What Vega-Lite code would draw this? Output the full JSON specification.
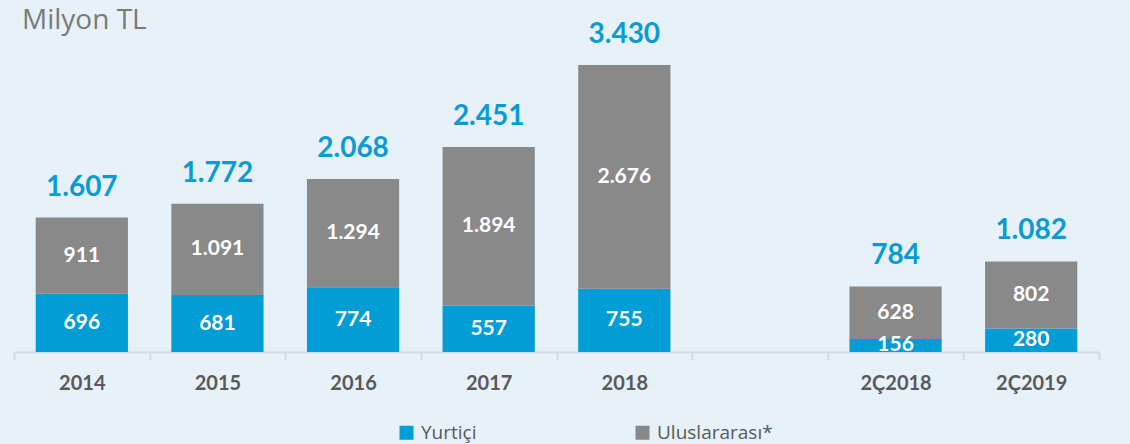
{
  "$schema": "https://vega.github.io/schema/vega-lite/v6.json",
  "width": 1085,
  "height": 312,
  "autosize": {"type": "none"},
  "padding": {"left": 14, "top": 40, "right": 31, "bottom": 92},
  "background": "#e6f1fa",
  "title": {
    "text": "Milyon TL",
    "anchor": "start",
    "frame": "group",
    "font": "Open Sans",
    "fontSize": 28,
    "fontWeight": "normal",
    "color": "#7a7a7a",
    "dx": 8,
    "dy": 14,
    "offset": 0
  },
  "config": {
    "view": {"stroke": null},
    "locale": {"number": {"decimal": ",", "thousands": ".", "grouping": [3], "currency": ["", " TL"]}}
  },
  "datasets": {
    "segments": [
      {"yil": "2014", "tur": "Yurtiçi", "deger": 696},
      {"yil": "2014", "tur": "Uluslararası*", "deger": 911},
      {"yil": "2015", "tur": "Yurtiçi", "deger": 681},
      {"yil": "2015", "tur": "Uluslararası*", "deger": 1091},
      {"yil": "2016", "tur": "Yurtiçi", "deger": 774},
      {"yil": "2016", "tur": "Uluslararası*", "deger": 1294},
      {"yil": "2017", "tur": "Yurtiçi", "deger": 557},
      {"yil": "2017", "tur": "Uluslararası*", "deger": 1894},
      {"yil": "2018", "tur": "Yurtiçi", "deger": 755},
      {"yil": "2018", "tur": "Uluslararası*", "deger": 2676},
      {"yil": "2Ç2018", "tur": "Yurtiçi", "deger": 156},
      {"yil": "2Ç2018", "tur": "Uluslararası*", "deger": 628},
      {"yil": "2Ç2019", "tur": "Yurtiçi", "deger": 280},
      {"yil": "2Ç2019", "tur": "Uluslararası*", "deger": 802}
    ],
    "totals": [
      {"yil": "2014", "toplam": 1607},
      {"yil": "2015", "toplam": 1772},
      {"yil": "2016", "toplam": 2068},
      {"yil": "2017", "toplam": 2451},
      {"yil": "2018", "toplam": 3430},
      {"yil": "2Ç2018", "toplam": 784},
      {"yil": "2Ç2019", "toplam": 1082}
    ]
  },
  "data": {"name": "segments"},
  "encoding": {
    "x": {
      "field": "yil",
      "type": "nominal",
      "scale": {"domain": ["2014", "2015", "2016", "2017", "2018", " ", "2Ç2018", "2Ç2019"], "paddingInner": 0, "paddingOuter": 0},
      "axis": {
        "title": null,
        "labelAngle": 0,
        "tickBand": "extent",
        "domainColor": "#d6dbe0",
        "domainWidth": 2,
        "tickColor": "#d6dbe0",
        "tickWidth": 2,
        "tickSize": 8,
        "labelFont": "Lato",
        "labelFontSize": 20,
        "labelFontWeight": "bold",
        "labelColor": "#595959",
        "labelPadding": 13
      }
    }
  },
  "layer": [
    {
      "mark": {"type": "bar", "width": {"band": 0.68}},
      "encoding": {
        "y": {"field": "deger", "type": "quantitative", "stack": "zero", "scale": {"domain": [0, 3729], "nice": false, "zero": true}, "axis": null},
        "color": {
          "field": "tur",
          "type": "nominal",
          "scale": {"domain": ["Yurtiçi", "Uluslararası*"], "range": ["#009dd6", "#898989"]},
          "legend": {
            "title": null,
            "orient": "none",
            "direction": "horizontal",
            "legendX": 383,
            "legendY": 383,
            "symbolType": "square",
            "symbolSize": 196,
            "symbolStrokeWidth": 0,
            "labelFont": "Open Sans",
            "labelFontSize": 19,
            "labelColor": "#595959",
            "labelOffset": 5,
            "columnPadding": 156
          }
        },
        "order": {"field": "tur", "sort": "descending"}
      }
    },
    {
      "mark": {"type": "text", "color": "white", "font": "Lato", "fontWeight": "bold", "fontSize": 21, "baseline": "middle"},
      "encoding": {
        "y": {"field": "deger", "type": "quantitative", "stack": "zero", "bandPosition": 0.5},
        "text": {"field": "deger", "type": "quantitative", "format": ",d"},
        "order": {"field": "tur", "sort": "descending"},
        "detail": {"field": "tur"}
      }
    },
    {
      "data": {"name": "totals"},
      "mark": {"type": "text", "color": "#0a9bd5", "font": "Lato", "fontWeight": "bold", "fontSize": 28, "baseline": "alphabetic", "dy": -22},
      "encoding": {
        "y": {"field": "toplam", "type": "quantitative"},
        "text": {"field": "toplam", "type": "quantitative", "format": ",d"}
      }
    }
  ]
}
